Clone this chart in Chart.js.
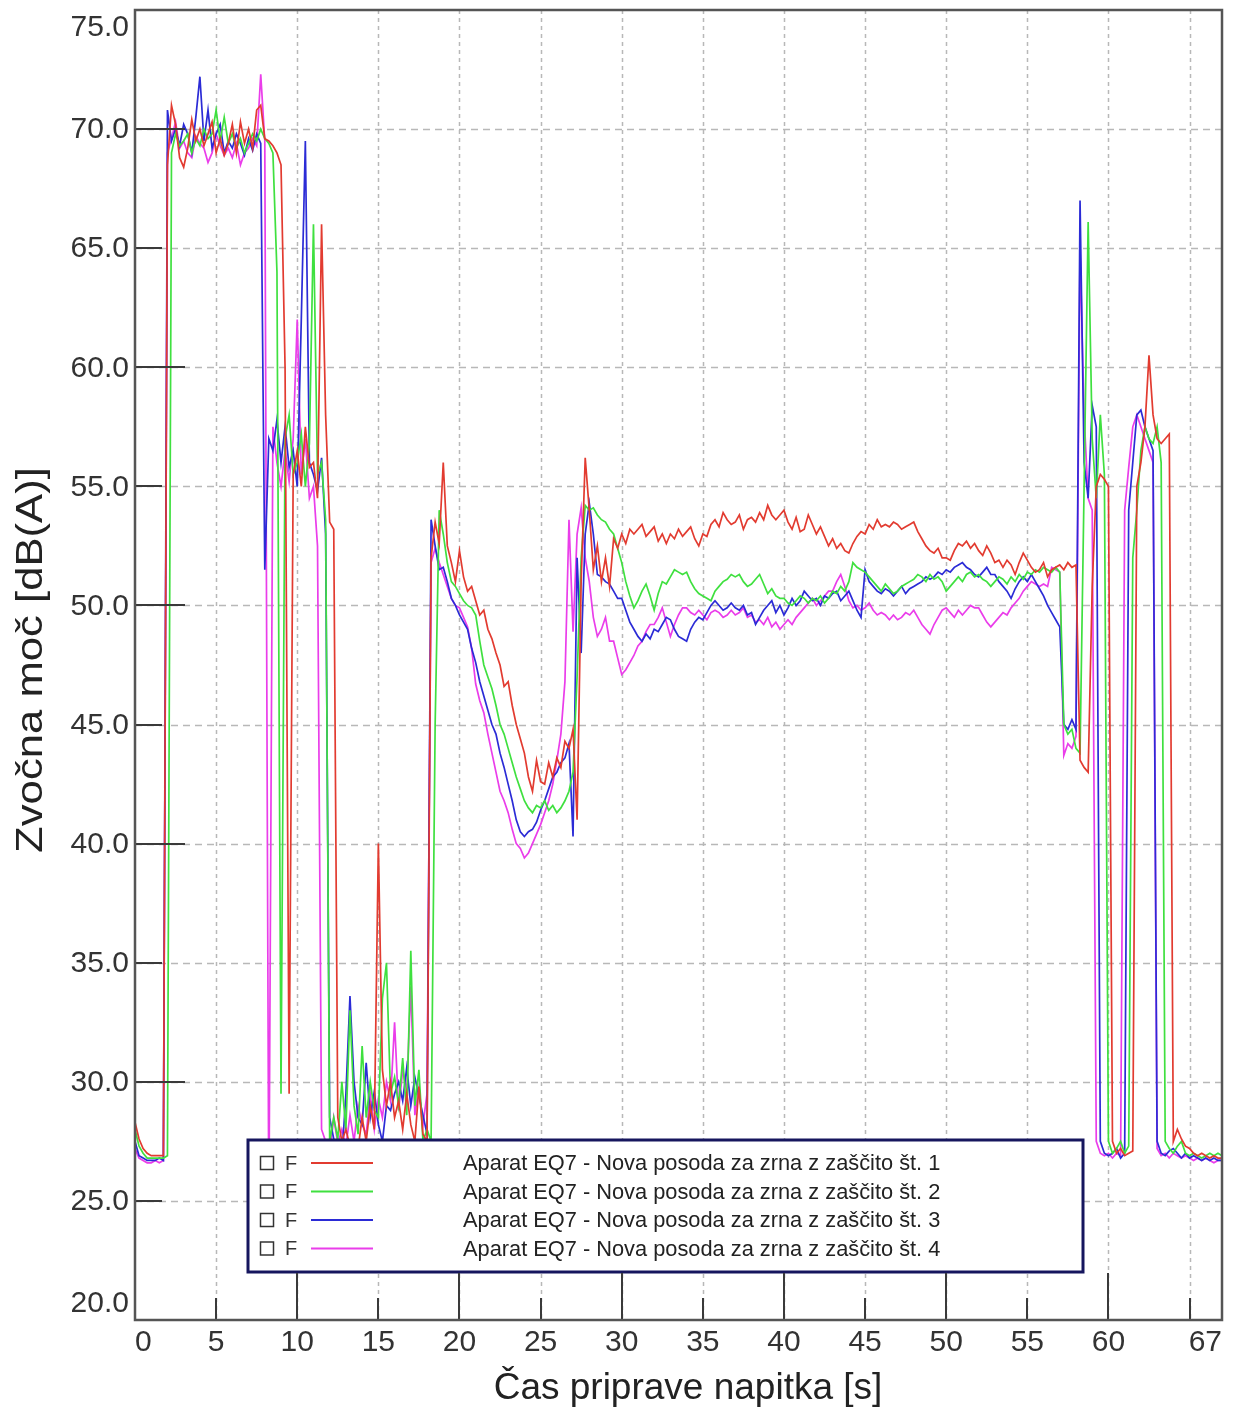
<!DOCTYPE html>
<html>
<head>
<meta charset="utf-8">
<script src="https://cdn.jsdelivr.net/npm/chart.js@4.4.1/dist/chart.umd.min.js"></script>
<style>
  html, body { margin: 0; background: #fff; }
  #okvir { width: 1236px; height: 1414px; }
</style>
</head>
<body>
<div id="okvir"><canvas id="graf"></canvas></div>
<script>
// Časovna os: vzorci na 0.25 s, od 0 do 67 s
const casi = [];
for (let i = 0; i <= 268; i++) casi.push(i * 0.25);

const oznakeX = [0, 5, 10, 15, 20, 25, 30, 35, 40, 45, 50, 55, 60, 65, 67];
const oznakeY = [20, 25, 30, 35, 40, 45, 50, 55, 60, 65, 70, 75];

const naslovX = 'Čas priprave napitka [s]';
const naslovY = 'Zvočna moč [dB(A)]';

const imena = [
  'Aparat EQ7 - Nova posoda za zrna z zaščito št. 1',
  'Aparat EQ7 - Nova posoda za zrna z zaščito št. 2',
  'Aparat EQ7 - Nova posoda za zrna z zaščito št. 3',
  'Aparat EQ7 - Nova posoda za zrna z zaščito št. 4'
];
const barve = ['#e23b30', '#3fe03f', '#2b2bd6', '#ea3dea'];

// Zvočna moč [dB(A)], ena vrstica = ena sekunda (4 vzorci)
const aparat1 = [
  28.3, 27.6, 27.2, 27.0,  26.9, 26.9, 26.9, 26.9,  68.5, 71.0, 70.2, 68.8,  68.4, 69.2, 70.4, 69.5,
  70.0, 69.3, 69.8, 70.3,  69.0, 69.6, 68.9, 69.4,  70.2, 69.0, 70.3, 69.4,  70.0, 69.2, 70.8, 71.0,
  69.6, 69.5, 69.3, 69.0,  68.5, 60.0, 29.5, 55.5,  56.5, 55.0, 57.5, 55.8,  56.0, 54.5, 66.0, 58.0,
  53.5, 53.2, 28.5, 27.5,  28.0, 27.3, 26.5, 27.2,  28.5, 27.5, 29.0, 28.0,  40.0, 30.5, 29.0, 30.0,
  28.5, 29.2, 28.0, 29.5,  28.2, 27.5, 29.8, 27.8,  27.5, 52.0, 53.5, 52.6,  56.0, 52.5, 51.8, 51.0,
  52.3, 51.2, 50.6, 50.8,  50.2, 49.6, 49.8, 49.0,  48.6, 48.0, 47.5, 46.6,  46.8, 45.8, 45.0, 44.4,
  43.8, 42.8, 42.2, 43.5,  42.6, 42.5, 43.4, 42.8,  43.6, 43.2, 44.3, 44.0,  44.8, 41.0, 51.0, 56.2,
  54.0, 51.5, 52.5, 51.0,  52.0, 50.8, 52.8, 52.4,  53.0, 52.6, 53.2, 53.0,  53.2, 53.4, 52.9, 53.1,
  53.3, 52.7, 53.0, 52.6,  53.0, 52.8, 53.2, 52.9,  53.1, 53.3, 52.8, 52.5,  53.0, 52.9, 53.4, 53.6,
  53.3, 53.9, 53.6, 53.4,  53.5, 53.8, 53.2, 53.6,  53.7, 53.5, 53.9, 53.6,  54.2, 53.8, 53.6, 53.8,
  54.0, 53.5, 53.2, 53.7,  53.1, 53.2, 53.8, 53.4,  53.0, 53.3, 52.9, 52.5,  52.8, 52.4, 52.6, 52.3,
  52.2, 52.6, 52.9, 53.1,  53.0, 53.4, 53.2, 53.6,  53.3, 53.4, 53.3, 53.5,  53.4, 53.2, 53.3, 53.4,
  53.5, 53.1, 52.8, 52.5,  52.3, 52.2, 52.4, 52.0,  52.0, 51.9, 52.3, 52.6,  52.5, 52.7, 52.4, 52.6,
  52.3, 52.1, 52.5, 52.2,  51.8, 51.9, 51.6, 51.9,  51.7, 51.3, 51.8, 52.2,  51.9, 51.6, 51.4, 51.5,
  51.8, 51.2, 51.5, 51.6,  51.7, 51.5, 51.8, 51.6,  51.7, 43.5, 43.2, 43.0,  50.8, 55.0, 55.5, 55.3,
  55.0, 27.5, 27.0, 27.2,  26.9, 27.0, 27.1, 55.0,  56.0, 57.5, 60.5, 58.0,  57.0, 56.8, 57.0, 57.2,
  27.5, 28.0, 27.6, 27.3,  27.2, 27.0, 26.9, 27.0,  26.9, 26.8, 26.9, 26.8,  26.8
];

const aparat2 = [
  28.0, 27.3, 27.0, 26.8,  26.8, 26.8, 26.8, 26.8,  26.9, 69.0, 69.8, 69.3,  69.5, 69.8, 69.0, 69.6,
  69.3, 70.0, 69.6, 69.8,  70.8, 69.5, 70.5, 69.4,  69.8, 69.2, 69.6, 69.0,  69.4, 69.8, 69.5, 70.0,
  69.6, 69.4, 69.0, 64.0,  29.5, 57.0, 58.0, 55.5,  56.0, 57.2, 55.0, 56.8,  66.0, 55.5, 56.0, 53.6,
  27.5, 28.5, 27.6, 30.0,  28.0, 33.0, 29.0, 27.8,  31.5, 28.5, 30.0, 28.8,  28.5, 33.5, 35.0, 29.5,
  30.2, 29.0, 31.0, 28.6,  35.5, 29.0, 30.5, 27.5,  28.0, 27.5, 45.0, 54.0,  53.0, 51.8, 51.0, 50.8,
  50.5, 50.2, 50.0, 49.9,  49.6, 48.5, 47.5, 47.0,  46.5, 45.8, 45.0, 44.6,  44.0, 43.4, 42.8, 42.3,
  41.8, 41.5, 41.3, 41.6,  41.5, 41.8, 41.4, 41.6,  41.3, 41.5, 41.8, 42.2,  43.0, 47.0, 52.0, 54.2,
  54.0, 54.1, 53.8, 53.6,  53.5, 53.2, 53.0, 52.4,  51.8, 51.0, 50.4, 49.9,  50.2, 50.6, 50.9, 50.4,
  49.8, 50.5, 51.0, 50.9,  51.2, 51.5, 51.4, 51.3,  51.4, 51.0, 50.7, 50.5,  50.4, 50.3, 50.2, 50.6,
  50.8, 51.0, 51.1, 51.3,  51.2, 51.3, 51.0, 50.8,  50.9, 51.1, 51.3, 50.9,  50.5, 50.7, 50.4, 50.3,
  50.3, 50.1, 50.0, 50.2,  50.4, 50.3, 50.1, 50.3,  50.2, 50.4, 50.1, 50.3,  50.6, 50.5, 50.8, 50.6,
  51.0, 51.8, 51.6, 51.5,  51.4, 51.2, 51.0, 50.8,  50.6, 50.9, 50.7, 50.5,  50.6, 50.8, 50.9, 51.0,
  51.1, 51.3, 51.2, 51.0,  51.3, 51.1, 51.2, 51.0,  50.6, 50.8, 51.0, 51.2,  51.0, 51.3, 51.4, 51.2,
  51.3, 51.1, 51.0, 50.8,  51.0, 51.2, 51.1, 50.9,  51.2, 51.0, 51.3, 51.1,  51.4, 51.3, 51.5, 51.4,
  51.6, 51.5, 51.4, 51.6,  51.4, 45.0, 44.6, 44.8,  44.0, 43.8, 55.0, 66.1,  57.0, 54.5, 58.0, 55.5,
  27.5, 27.0, 27.2, 27.5,  27.0, 27.3, 52.0, 54.0,  56.5, 57.5, 57.0, 56.8,  57.5, 56.0, 27.5, 27.2,
  27.0, 27.3, 27.5, 27.0,  26.9, 27.0, 26.9, 26.8,  26.9, 27.0, 26.9, 27.0,  26.9
];

const aparat3 = [
  27.5, 26.9, 26.8, 26.7,  26.7, 26.7, 26.8, 26.7,  70.8, 69.5, 70.0, 69.3,  70.2, 69.8, 69.0, 70.5,
  72.2, 69.5, 70.8, 69.2,  69.8, 70.2, 69.0, 69.5,  69.2, 69.8, 69.4, 68.9,  69.6, 69.1, 69.8, 69.4,
  51.5, 57.0, 56.5, 57.8,  56.0, 57.5, 55.8, 56.5,  55.0, 62.0, 69.5, 56.0,  55.5, 54.8, 56.2, 53.0,
  28.5, 27.6, 27.3, 26.8,  29.5, 33.6, 30.0, 28.5,  28.2, 30.8, 28.5, 29.6,  28.2, 27.5, 29.0, 28.8,
  29.5, 30.0, 29.2, 30.6,  29.0, 30.2, 29.4, 28.6,  27.8, 53.6, 52.5, 51.5,  51.6, 51.0, 50.3, 50.0,
  49.6, 49.3, 49.0, 48.2,  47.6, 46.8, 46.2, 45.6,  45.0, 44.6, 43.8, 43.2,  42.5, 41.8, 41.0, 40.5,
  40.3, 40.5, 40.6, 40.9,  41.4, 41.8, 42.3, 42.8,  43.0, 43.4, 43.6, 44.2,  40.3, 52.0, 48.0, 53.0,
  54.3, 53.0, 51.3, 51.2,  51.0, 50.9, 50.6, 50.3,  50.3, 49.8, 49.3, 49.0,  48.7, 48.5, 48.8, 48.6,
  49.0, 48.9, 49.2, 49.5,  49.4, 49.0, 48.7, 48.6,  48.5, 49.0, 49.3, 49.5,  49.4, 49.7, 50.0, 50.2,
  50.0, 49.8, 49.9, 50.1,  49.9, 49.8, 50.0, 49.6,  49.7, 49.2, 49.5, 49.8,  50.0, 50.2, 49.7, 50.0,
  49.6, 49.9, 50.3, 50.0,  50.2, 50.6, 50.4, 50.2,  50.3, 50.0, 50.4, 50.3,  50.5, 50.6, 50.2, 50.4,
  50.6, 50.2, 49.8, 49.5,  51.5, 51.0, 50.8, 50.6,  50.5, 50.7, 50.6, 50.4,  50.6, 50.8, 50.5, 50.7,
  50.8, 50.9, 51.0, 51.2,  51.1, 51.2, 51.4, 51.3,  51.5, 51.4, 51.6, 51.7,  51.8, 51.6, 51.5, 51.3,
  51.2, 51.4, 51.6, 51.3,  51.3, 51.0, 50.8, 50.6,  50.3, 50.7, 51.0, 51.2,  51.0, 51.3, 51.0, 50.7,
  50.4, 50.0, 49.7, 49.4,  49.1, 45.0, 44.8, 45.2,  44.8, 67.0, 56.0, 54.5,  58.4, 57.5, 27.5, 27.0,
  26.9, 27.0, 27.2, 26.8,  27.0, 54.0, 56.0, 58.0,  58.2, 57.5, 57.0, 56.5,  27.5, 27.0, 26.9, 27.1,
  27.2, 27.0, 26.8, 27.0,  26.8, 26.9, 26.8, 26.7,  26.8, 26.7, 26.8, 26.7,  26.7
];

const aparat4 = [
  27.2, 26.8, 26.7, 26.6,  26.6, 26.7, 26.6, 26.7,  69.0, 69.6, 70.3, 69.2,  69.5, 69.0, 68.8, 69.7,
  69.4, 69.2, 68.6, 69.0,  69.8, 69.3, 68.9, 69.2,  68.8, 69.4, 68.5, 69.0,  69.2, 69.6, 69.3, 72.3,
  69.5, 24.0, 57.5, 56.0,  55.0, 56.5, 55.2, 57.0,  62.0, 55.5, 57.0, 54.5,  55.0, 52.5, 28.0, 27.5,
  27.0, 28.5, 27.4, 28.0,  27.3, 28.6, 27.5, 29.0,  28.2, 27.8, 29.5, 28.0,  29.3, 28.5, 30.0, 29.2,
  32.5, 28.8, 30.5, 29.6,  34.0, 28.6, 29.8, 28.2,  29.5, 51.8, 52.4, 51.8,  51.3, 50.8, 50.3, 50.0,
  49.9, 49.5, 49.1, 48.2,  46.7, 46.0, 45.5, 44.6,  43.8, 43.0, 42.2, 41.8,  41.3, 40.6, 40.0, 39.8,
  39.4, 39.6, 40.0, 40.4,  40.8, 41.3, 41.8, 42.5,  43.5, 44.6, 46.8, 53.6,  48.9, 53.0, 54.1, 52.0,
  51.0, 49.5, 48.7, 49.0,  49.5, 48.5, 48.5, 47.8,  47.1, 47.3, 47.6, 47.9,  48.3, 48.5, 48.9, 49.2,
  49.2, 49.5, 49.9, 49.3,  48.7, 49.2, 49.6, 49.9,  49.9, 49.7, 49.6, 49.8,  49.6, 49.4, 49.7, 49.8,
  49.7, 49.5, 49.6, 49.8,  49.6, 49.7, 49.9, 49.5,  49.6, 49.3, 49.4, 49.2,  49.5, 49.1, 49.3, 49.0,
  49.2, 49.4, 49.2, 49.5,  49.7, 49.9, 50.1, 50.3,  50.0, 50.2, 50.4, 50.6,  50.6, 51.0, 51.3, 50.8,
  50.2, 49.9, 50.0, 49.8,  49.9, 50.1, 49.8, 49.6,  49.7, 49.6, 49.4, 49.6,  49.4, 49.5, 49.7, 49.6,
  49.8, 49.5, 49.2, 49.0,  48.8, 49.2, 49.5, 49.8,  49.9, 49.7, 49.5, 49.8,  49.6, 49.8, 50.0, 49.9,
  49.9, 49.6, 49.3, 49.1,  49.3, 49.5, 49.7, 49.6,  49.9, 50.1, 50.3, 50.6,  50.8, 51.0, 50.9, 50.8,
  50.9, 50.8, 51.6, 51.5,  51.4, 43.7, 44.2, 44.0,  44.5, 65.0, 58.0, 54.5,  54.0, 27.5, 27.0, 26.9,
  27.0, 26.8, 27.0, 26.9,  54.0, 55.8, 57.5, 58.0,  57.5, 57.0, 56.5, 56.0,  27.2, 26.9, 27.0, 26.8,
  27.0, 26.9, 26.8, 26.9,  26.8, 26.7, 26.8, 26.7,  26.8, 26.7, 26.6, 26.7,  26.7
];

const pisava = "'Liberation Sans', Arial, sans-serif";

// Mreža, oznake na oseh, okvir, naslova osi in legenda
const risanje = {
  id: 'risanje',
  beforeDatasetsDraw(chart) {
    const { ctx, chartArea: a, scales: { x, y } } = chart;
    ctx.save();
    ctx.strokeStyle = '#b8b8b8';
    ctx.lineWidth = 1.5;
    ctx.setLineDash([7, 5]);
    oznakeY.slice(1, -1).forEach(v => {
      const py = Math.round(y.getPixelForValue(v)) + 0.5;
      ctx.beginPath(); ctx.moveTo(a.left, py); ctx.lineTo(a.right, py); ctx.stroke();
    });
    ctx.setLineDash([4, 4]);
    oznakeX.slice(1, -1).forEach(v => {
      const px = Math.round(x.getPixelForValue(v)) + 0.5;
      ctx.beginPath(); ctx.moveTo(px, a.top); ctx.lineTo(px, a.bottom); ctx.stroke();
    });
    ctx.restore();
  },
  afterDatasetsDraw(chart) {
    const { ctx, chartArea: a, scales: { x, y } } = chart;
    ctx.save();

    // legenda
    const L = 248, T = 1140, R = 1083, B = 1272;
    ctx.fillStyle = '#fff';
    ctx.fillRect(L, T, R - L, B - T);
    ctx.strokeStyle = '#16165e';
    ctx.lineWidth = 3;
    ctx.strokeRect(L, T, R - L, B - T);
    chart.data.datasets.forEach((ds, i) => {
      const cy = 1163 + i * 28.5;
      ctx.strokeStyle = '#333';
      ctx.lineWidth = 1.5;
      ctx.strokeRect(260.5, cy - 6.5, 13, 13);
      ctx.fillStyle = '#333';
      ctx.font = '20px ' + pisava;
      ctx.textBaseline = 'middle';
      ctx.textAlign = 'left';
      ctx.fillText('F', 285, cy + 1);
      ctx.strokeStyle = ds.borderColor;
      ctx.lineWidth = 2;
      ctx.beginPath(); ctx.moveTo(311, cy); ctx.lineTo(373, cy); ctx.stroke();
      ctx.fillStyle = '#222';
      ctx.font = '21.8px ' + pisava;
      ctx.fillText(ds.label, 463, cy + 1);
    });

    // oznake na oseh (daljše na vsakih 10)
    ctx.strokeStyle = '#3a3a3a';
    ctx.lineWidth = 2;
    oznakeY.slice(1, -1).forEach(v => {
      const py = Math.round(y.getPixelForValue(v));
      const d = v % 10 === 0 ? 50 : 27;
      ctx.beginPath(); ctx.moveTo(a.left, py); ctx.lineTo(a.left + d, py); ctx.stroke();
    });
    oznakeX.slice(1, -1).forEach(v => {
      const px = Math.round(x.getPixelForValue(v));
      const d = v % 10 === 0 ? 47 : 22;
      ctx.beginPath(); ctx.moveTo(px, a.bottom); ctx.lineTo(px, a.bottom - d); ctx.stroke();
    });

    // okvir
    ctx.strokeStyle = '#555';
    ctx.lineWidth = 2.5;
    ctx.strokeRect(a.left, a.top, a.right - a.left, a.bottom - a.top);

    // številke na osi y
    ctx.fillStyle = '#333';
    ctx.font = '30px ' + pisava;
    ctx.textAlign = 'right';
    ctx.textBaseline = 'middle';
    oznakeY.forEach(v => {
      let py = y.getPixelForValue(v);
      py = Math.min(Math.max(py, a.top + 17), a.bottom - 17);
      ctx.fillText(v.toFixed(1), 129, py + 1);
    });

    // naslova osi
    ctx.fillStyle = '#222';
    ctx.textAlign = 'center';
    ctx.font = '37px ' + pisava;
    ctx.fillText(naslovX, 688, 1389);
    ctx.translate(32, 660);
    ctx.rotate(-Math.PI / 2);
    ctx.scale(1.18, 1);
    ctx.fillText(naslovY, 0, 0);
    ctx.restore();
  }
};

const serije = [aparat1, aparat2, aparat3, aparat4];

new Chart(document.getElementById('graf'), {
  type: 'line',
  data: {
    datasets: serije.map((s, i) => ({
      label: imena[i],
      data: s.map((v, k) => ({ x: casi[k], y: v })),
      borderColor: barve[i],
      borderWidth: 1.7,
      pointRadius: 0,
      tension: 0,
      fill: false
    }))
  },
  options: {
    responsive: true,
    maintainAspectRatio: false,
    animation: false,
    devicePixelRatio: 1,
    layout: { padding: { top: 10, right: 14, left: 0, bottom: 0 } },
    plugins: { legend: { display: false }, tooltip: { enabled: false } },
    scales: {
      x: {
        type: 'linear',
        min: 0,
        max: 67,
        grid: { display: false, drawTicks: false },
        border: { display: false },
        afterBuildTicks: s => { s.ticks = oznakeX.map(v => ({ value: v })); },
        afterFit: s => { s.height = 94; },
        ticks: {
          autoSkip: false,
          maxRotation: 0,
          align: 'inner',
          padding: 5,
          color: '#333',
          font: { family: pisava, size: 30 },
          callback: v => (v === 65 ? '' : String(v))
        },
        title: { display: false }
      },
      y: {
        min: 20,
        max: 75,
        grid: { display: false, drawTicks: false },
        border: { display: false },
        afterBuildTicks: s => { s.ticks = oznakeY.map(v => ({ value: v })); },
        afterFit: s => { s.width = 135; },
        ticks: { display: false },
        title: { display: false }
      }
    }
  },
  plugins: [risanje]
});
</script>
</body>
</html>
